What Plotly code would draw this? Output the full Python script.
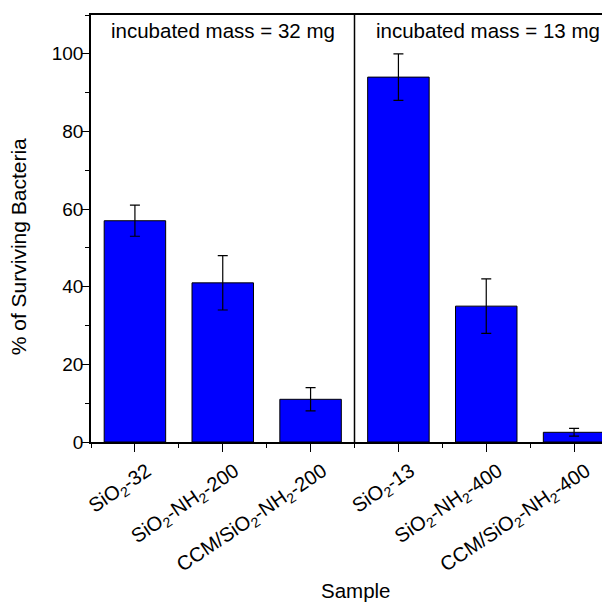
import plotly.graph_objects as go

categories = ["SiO<sub>2</sub>-32", "SiO<sub>2</sub>-NH<sub>2</sub>-200", "CCM/SiO<sub>2</sub>-NH<sub>2</sub>-200",
              "SiO<sub>2</sub>-13", "SiO<sub>2</sub>-NH<sub>2</sub>-400", "CCM/SiO<sub>2</sub>-NH<sub>2</sub>-400"]
values = [57, 41, 11, 94, 35, 2.5]
errors = [4, 7, 3, 6, 7, 1]
group_labels = ["incubated mass = 32 mg", "incubated mass = 13 mg"]
group_centers = [2.0, 5.02]
y_ticks = [0, 20, 40, 60, 80, 100]

positions = list(range(1, len(categories) + 1))
FONT = "Liberation Sans, Arial, sans-serif"

fig = go.Figure()
fig.add_trace(go.Bar(
    x=positions, y=values, width=0.7,
    marker=dict(color="#0000FF", line=dict(color="black", width=1)),
    error_y=dict(type="data", array=errors, visible=True, color="black", thickness=1.2, width=5),
))

fig.add_shape(type="line", xref="x", yref="y", x0=3.5, x1=3.5, y0=0, y1=110,
              line=dict(color="black", width=1.5))

for lab, c in zip(group_labels, group_centers):
    fig.add_annotation(x=c, y=106.1, xref="x", yref="y", text=lab, showarrow=False,
                       xanchor="center", yanchor="middle",
                       font=dict(family=FONT, size=20.5, color="black"))

fig.add_annotation(x=-0.1385, y=0.456, xref="paper", yref="paper", text="% of Surviving Bacteria",
                   textangle=-90, showarrow=False, xanchor="center", yanchor="middle",
                   font=dict(family=FONT, size=21, color="black"))
fig.add_annotation(x=0.503, y=-0.3475, xref="paper", yref="paper", text="Sample",
                   showarrow=False, xanchor="center", yanchor="middle",
                   font=dict(family=FONT, size=20.5, color="black"))

fig.update_layout(
    width=610, height=609,
    margin=dict(l=83, r=0, t=7, b=175),
    paper_bgcolor="white", plot_bgcolor="white",
    showlegend=False,
    font=dict(family=FONT, size=18, color="black"),
)
fig.update_xaxes(
    range=[0.5, 6.5], tickmode="array", tickvals=positions, ticktext=categories,
    tickangle=-34, ticks="outside", ticklen=8, tickwidth=1.2, tickcolor="black",
    showline=True, linecolor="black", linewidth=1.5, mirror=True,
    showgrid=False, zeroline=False, ticklabelshift=12,
    minor=dict(tickmode="linear", tick0=0.5, dtick=1, ticks="outside", ticklen=4, tickcolor="black", tickwidth=1.2),
    tickfont=dict(family=FONT, size=20, color="black"),
)
fig.update_yaxes(
    range=[0, 110], tickmode="array", tickvals=y_ticks,
    ticks="outside", ticklen=7, tickwidth=1.2, tickcolor="black",
    showline=True, linecolor="black", linewidth=1.5,
    showgrid=False, zeroline=False, ticklabelstandoff=-5,
    minor=dict(tickmode="linear", tick0=10, dtick=20, ticks="outside", ticklen=4, tickcolor="black", tickwidth=1.2),
    tickfont=dict(family=FONT, size=19, color="black"),
)

fig.write_html("out.html")
